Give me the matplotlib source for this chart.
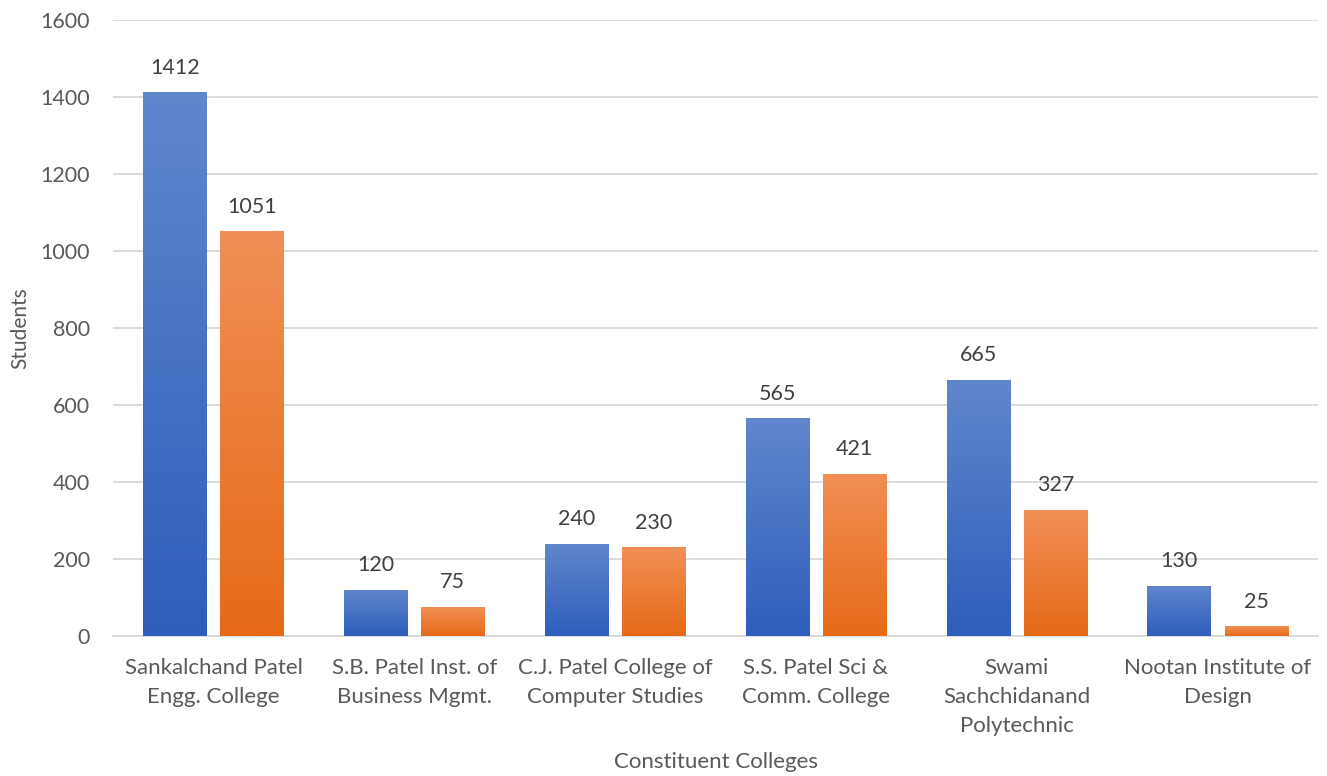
import numpy as np
import matplotlib
matplotlib.use('Agg')
import matplotlib.pyplot as plt
from matplotlib.colors import LinearSegmentedColormap

colleges = ['Sankalchand Patel\nEngg. College',
            'S.B. Patel Inst. of\nBusiness Mgmt.',
            'C.J. Patel College of\nComputer Studies',
            'S.S. Patel Sci &\nComm. College',
            'Swami\nSachchidanand\nPolytechnic',
            'Nootan Institute of\nDesign']
series_a = [1412, 120, 240, 565, 665, 130]
series_b = [1051, 75, 230, 421, 327, 25]

plt.rcParams['font.family'] = ['Lato', 'DejaVu Sans']

fig = plt.figure(figsize=(13.27, 7.76), dpi=100)
ax = fig.add_axes([0.0852, 0.1804, 0.9080, 0.7938])

blue_cmap = LinearSegmentedColormap.from_list('b', ['#2e5ebc', '#6086cc'])
orange_cmap = LinearSegmentedColormap.from_list('o', ['#e66a18', '#f18f55'])

x = np.arange(len(colleges))
width = 0.314
off = 0.192
grad = np.linspace(0, 1, 256).reshape(-1, 1)


def gradient_bars(xs, vals, cmap):
    bars = ax.bar(xs, vals, width, color='none', zorder=3)
    for b, v in zip(bars, vals):
        im = ax.imshow(grad, cmap=cmap, origin='lower', aspect='auto',
                       extent=[b.get_x(), b.get_x() + b.get_width(), 0, v],
                       zorder=3)
        im.set_clip_path(b)
        ax.text(b.get_x() + b.get_width() / 2, v + 64, str(v),
                ha='center', va='center', fontsize=15.5, color='#404040',
                zorder=4)
    return bars


gradient_bars(x - off, series_a, blue_cmap)
gradient_bars(x + off, series_b, orange_cmap)

ax.set_xlim(-0.5, 5.5)
ax.set_ylim(0, 1600)
ax.set_yticks(range(0, 1601, 200))
ax.set_xticks(x)
ax.set_xticklabels(colleges, fontsize=16, color='#595959', linespacing=1.55)
ax.tick_params(axis='y', labelsize=15.5, labelcolor='#595959', length=0, pad=16.5)
ax.tick_params(axis='x', length=0, pad=16)
ax.grid(axis='y', color='#d9d9d9', linewidth=1.3, zorder=0)
ax.set_axisbelow(True)
for s in ['top', 'right', 'left']:
    ax.spines[s].set_visible(False)
ax.spines['bottom'].set_color('#d9d9d9')
ax.spines['bottom'].set_linewidth(1.3)

ax.set_ylabel('Students', fontsize=15, color='#595959')
ax.yaxis.set_label_coords(-0.069, 0.5)
ax.set_xlabel('Constituent Colleges', fontsize=16, color='#595959')
ax.xaxis.set_label_coords(0.5, -0.188)

fig.savefig('out.png', dpi=100)
